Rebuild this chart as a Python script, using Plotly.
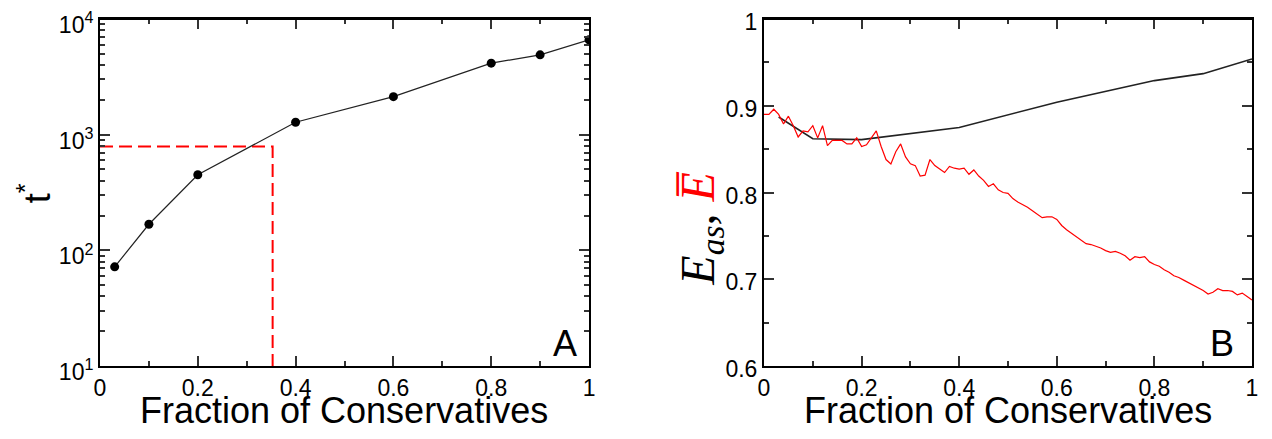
import plotly.graph_objects as go

# ---------------- Panel A data ----------------
frac_a = [0.03, 0.1, 0.2, 0.4, 0.6, 0.8, 0.9, 1.0]
t_star = [72, 168, 450, 1280, 2130, 4150, 4900, 6600]
threshold_frac = 0.353
threshold_t = 790
t_floor = 10

# ---------------- Panel B data ----------------
frac_b = [0.03, 0.1, 0.2, 0.4, 0.6, 0.8, 0.9, 1.0]
e_as = [0.887, 0.862, 0.861, 0.875, 0.904, 0.929, 0.937, 0.954]

frac_fine = [0.00, 0.01, 0.02, 0.03, 0.04, 0.05, 0.06, 0.07, 0.08, 0.09,
             0.10, 0.11, 0.12, 0.13, 0.14, 0.15, 0.16, 0.17, 0.18, 0.19,
             0.20, 0.21, 0.22, 0.23, 0.24, 0.25, 0.26, 0.27, 0.28, 0.29,
             0.30, 0.31, 0.32, 0.33, 0.34, 0.35, 0.36, 0.37, 0.38, 0.39,
             0.40, 0.41, 0.42, 0.43, 0.44, 0.45, 0.46, 0.47, 0.48, 0.49,
             0.50, 0.51, 0.52, 0.53, 0.54, 0.55, 0.56, 0.57, 0.58, 0.59,
             0.60, 0.61, 0.62, 0.63, 0.64, 0.65, 0.66, 0.67, 0.68, 0.69,
             0.70, 0.71, 0.72, 0.73, 0.74, 0.75, 0.76, 0.77, 0.78, 0.79,
             0.80, 0.81, 0.82, 0.83, 0.84, 0.85, 0.86, 0.87, 0.88, 0.89,
             0.90, 0.91, 0.92, 0.93, 0.94, 0.95, 0.96, 0.97, 0.98, 0.99,
             1.00]
e_bar = [0.890, 0.890, 0.896, 0.890, 0.879, 0.888, 0.877, 0.864, 0.871, 0.870,
         0.877, 0.863, 0.877, 0.854, 0.860, 0.860, 0.860, 0.856, 0.856, 0.863,
         0.853, 0.855, 0.863, 0.871, 0.853, 0.838, 0.833, 0.847, 0.856, 0.841,
         0.833, 0.831, 0.819, 0.820, 0.838, 0.831, 0.827, 0.823, 0.830, 0.828,
         0.827, 0.828, 0.821, 0.826, 0.819, 0.814, 0.807, 0.810, 0.803, 0.800,
         0.799, 0.793, 0.789, 0.786, 0.783, 0.779, 0.775, 0.771, 0.772, 0.772,
         0.769, 0.762, 0.757, 0.753, 0.750, 0.745, 0.741, 0.740, 0.738, 0.736,
         0.733, 0.731, 0.732, 0.730, 0.727, 0.722, 0.726, 0.725, 0.726, 0.720,
         0.717, 0.715, 0.711, 0.708, 0.704, 0.702, 0.699, 0.696, 0.693, 0.690,
         0.687, 0.683, 0.685, 0.689, 0.687, 0.687, 0.686, 0.682, 0.684, 0.680,
         0.676]

# ---------------- Tick labels ----------------
x_tickvals = [0, 0.2, 0.4, 0.6, 0.8, 1.0]
x_ticktext = ["0", "0.2", "0.4", "0.6", "0.8", "1"]
x_minor = [0.1, 0.3, 0.5, 0.7, 0.9]
ya_tickvals = [10, 100, 1000, 10000]
ya_ticktext = ["10<sup>1</sup>", "10<sup>2</sup>", "10<sup>3</sup>", "10<sup>4</sup>"]
ya_minor = [20, 30, 40, 50, 60, 70, 80, 90,
            200, 300, 400, 500, 600, 700, 800, 900,
            2000, 3000, 4000, 5000, 6000, 7000, 8000, 9000]
yb_tickvals = [0.6, 0.7, 0.8, 0.9, 1.0]
yb_ticktext = ["0.6", "0.7", "0.8", "0.9", "1"]
yb_minor = [0.65, 0.75, 0.85, 0.95]

FONT = "Liberation Sans, Arial, Helvetica, sans-serif"
SERIF = "Liberation Serif, Times New Roman, serif"

fig = go.Figure()

# Panel A
fig.add_trace(go.Scatter(
    x=[0, threshold_frac, threshold_frac], y=[threshold_t, threshold_t, t_floor],
    mode="lines", line=dict(color="#ff0000", width=2, dash="13px,6px"),
    xaxis="x", yaxis="y", showlegend=False, hoverinfo="skip"))
fig.add_trace(go.Scatter(
    x=frac_a, y=t_star, mode="lines+markers",
    line=dict(color="#222222", width=1.2),
    marker=dict(color="black", size=9),
    xaxis="x", yaxis="y", showlegend=False))

# Panel B
fig.add_trace(go.Scatter(
    x=frac_b, y=e_as, mode="lines",
    line=dict(color="#222222", width=1.6),
    xaxis="x2", yaxis="y2", showlegend=False))
fig.add_trace(go.Scatter(
    x=frac_fine, y=e_bar, mode="lines",
    line=dict(color="#ff0000", width=1.2),
    xaxis="x2", yaxis="y2", showlegend=False))

common = dict(
    showline=True, linecolor="black", linewidth=2, mirror="ticks",
    ticks="inside", ticklen=10, tickwidth=1.5, tickcolor="#333333",
    showgrid=False, zeroline=False, automargin=False,
    ticklabeloverflow="allow",
    tickfont=dict(family=FONT, size=23, color="black"),
)
minor_common = dict(ticks="inside", ticklen=5, tickwidth=1.5, tickcolor="#333333", showgrid=False)

x1_dom = [0, 0.4245]
x2_dom = [0.5764, 1.0]

fig.update_layout(
    width=1256, height=423,
    margin=dict(l=92, r=12, t=11, b=65, autoexpand=False),
    paper_bgcolor="white", plot_bgcolor="white",
    xaxis=dict(domain=x1_dom, range=[0, 1], anchor="y",
               tickmode="array", tickvals=x_tickvals, ticktext=x_ticktext,
               minor=dict(tickmode="array", tickvals=x_minor, **minor_common), **common),
    yaxis=dict(domain=[0, 1], type="log", range=[1, 4], anchor="x",
               tickmode="array", tickvals=ya_tickvals, ticktext=ya_ticktext,
               ticklabelshift=6,
               minor=dict(tickmode="array", tickvals=ya_minor, **minor_common), **common),
    xaxis2=dict(domain=x2_dom, range=[0, 1], anchor="y2",
                tickmode="array", tickvals=x_tickvals, ticktext=x_ticktext,
                minor=dict(tickmode="array", tickvals=x_minor, **minor_common), **common),
    yaxis2=dict(domain=[0, 1], range=[0.6, 1.0], anchor="x2",
                tickmode="array", tickvals=yb_tickvals, ticktext=yb_ticktext,
                ticklabelshift=3,
                minor=dict(tickmode="array", tickvals=yb_minor, **minor_common), **common),
)

# top frame edge of each panel (drawn on the axes domain)
for xr, yr in (("x domain", "y domain"), ("x2 domain", "y2 domain")):
    fig.add_shape(type="line", xref=xr, yref=yr, x0=0, x1=1, y0=1, y1=1,
                  line=dict(color="black", width=2), layer="above")

ann = []
ann.append(dict(text="Fraction of Conservatives", x=0.2122, y=-0.128, xref="paper", yref="paper",
                showarrow=False, xanchor="center", yanchor="middle",
                font=dict(family=FONT, size=36, color="black")))
ann.append(dict(text="Fraction of Conservatives", x=0.788, y=-0.128, xref="paper", yref="paper",
                showarrow=False, xanchor="center", yanchor="middle",
                font=dict(family=FONT, size=36, color="black")))
ann.append(dict(text="t<sup>*</sup>", x=-0.057, y=0.499, xref="paper", yref="paper",
                showarrow=False, xanchor="center", yanchor="middle", textangle=-90,
                font=dict(family=FONT, size=36, color="black")))
ann.append(dict(text="<i>E</i><sub><i>as</i></sub>, <span style='color:#ff0000'><i>E\u0305</i></span>",
                x=0.5215, y=0.395, xref="paper", yref="paper",
                showarrow=False, xanchor="center", yanchor="middle", textangle=-90,
                font=dict(family=SERIF, size=48, color="black")))
ann.append(dict(text="A", x=0.4036, y=0.066, xref="paper", yref="paper",
                showarrow=False, xanchor="center", yanchor="middle",
                font=dict(family=FONT, size=36, color="black")))
ann.append(dict(text="B", x=0.974, y=0.066, xref="paper", yref="paper",
                showarrow=False, xanchor="center", yanchor="middle",
                font=dict(family=FONT, size=36, color="black")))
fig.update_layout(annotations=ann)

fig.write_html("out.html")
